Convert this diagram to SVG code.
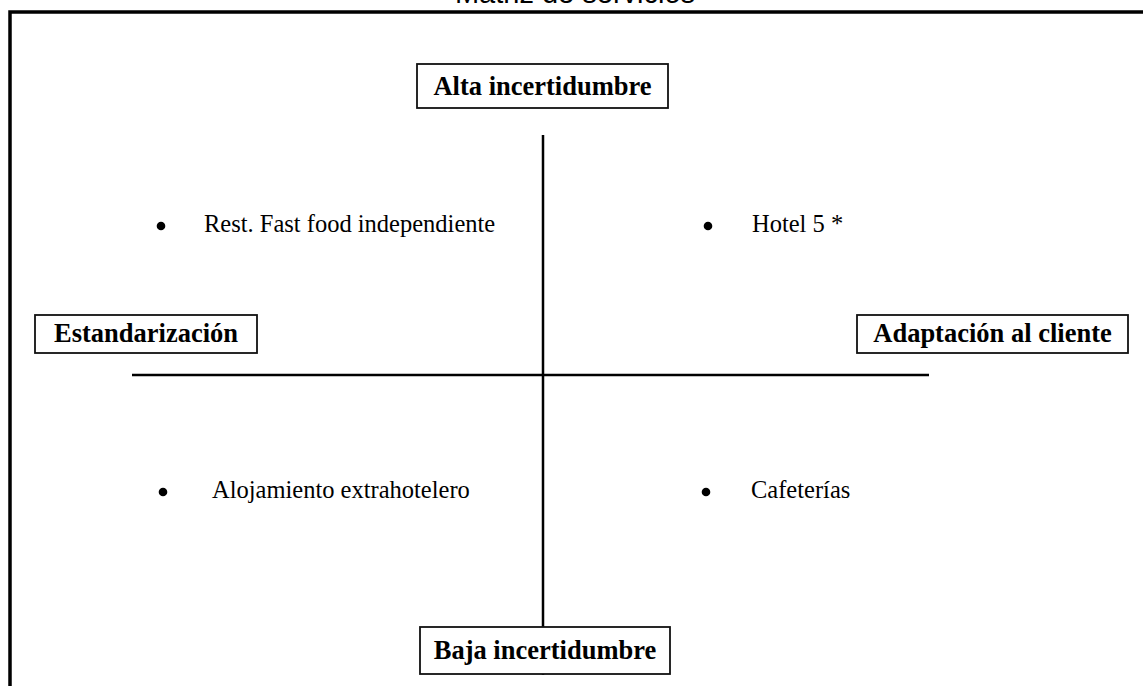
<svg xmlns="http://www.w3.org/2000/svg" width="1143" height="686" viewBox="0 0 1143 686">
  <style>
    .frame { fill: none; stroke: #000; stroke-width: 3.5; }
    .axis { stroke: #000; stroke-width: 2.5; }
    .box { fill: #fff; stroke: #111; stroke-width: 1.8; }
    .label { font-family: "Liberation Serif", "Times New Roman", serif; font-weight: bold; font-size: 26.5px; fill: #000; text-anchor: middle; }
    .item { font-family: "Liberation Serif", "Times New Roman", serif; font-size: 24.5px; fill: #000; }
    .dot { fill: #000; }
    .title { font-family: "Liberation Sans", Arial, sans-serif; font-size: 29px; fill: #000; text-anchor: middle; }
  </style>

  <rect width="1143" height="686" fill="#fff"/>

  <!-- heading, mostly above the page edge -->
  <text class="title" x="575" y="3">Matriz de servicios</text>

  <!-- outer frame -->
  <path class="frame" d="M10,700 V12 H1150"/>

  <!-- axes -->
  <g id="connectors">
    <line class="axis" x1="543" y1="135" x2="543" y2="675"/>
    <line class="axis" x1="132" y1="375" x2="929" y2="375"/>
  </g>

  <!-- axis labels -->
  <g id="alta">
    <rect class="box" x="417" y="64" width="251" height="44"/>
    <text class="label" x="542.5" y="95">Alta incertidumbre</text>
  </g>
  <g id="baja">
    <rect class="box" x="420" y="627" width="250" height="47"/>
    <text class="label" x="545" y="659">Baja incertidumbre</text>
  </g>
  <g id="estandarizacion">
    <rect class="box" x="35" y="315" width="222" height="38"/>
    <text class="label" x="146" y="342">Estandarización</text>
  </g>
  <g id="adaptacion">
    <rect class="box" x="857" y="315" width="271" height="38"/>
    <text class="label" x="992.5" y="342">Adaptación al cliente</text>
  </g>

  <!-- quadrant entries -->
  <g id="fastfood">
    <circle class="dot" cx="161" cy="226" r="4.3"/>
    <text class="item" x="204" y="232">Rest. Fast food independiente</text>
  </g>
  <g id="hotel">
    <circle class="dot" cx="708" cy="226" r="4.3"/>
    <text class="item" x="752" y="232">Hotel 5 *</text>
  </g>
  <g id="alojamiento">
    <circle class="dot" cx="163" cy="492" r="4.3"/>
    <text class="item" x="212" y="498">Alojamiento extrahotelero</text>
  </g>
  <g id="cafeterias">
    <circle class="dot" cx="706" cy="492" r="4.3"/>
    <text class="item" x="751" y="498">Cafeterías</text>
  </g>
</svg>
